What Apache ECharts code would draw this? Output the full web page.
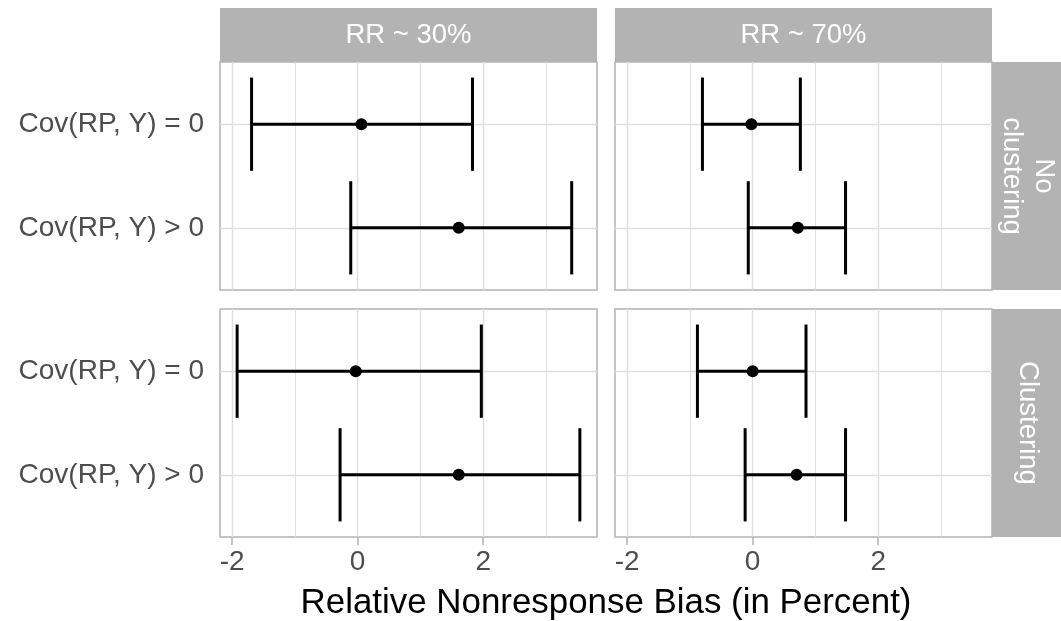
<!DOCTYPE html>
<html>
<head>
<meta charset="utf-8">
<script src="https://cdn.jsdelivr.net/npm/echarts@6/dist/echarts.min.js"></script>
<style>
  html, body { margin: 0; padding: 0; background: #fff; }
  #main { width: 1061px; height: 621px; }
</style>
</head>
<body>
<div id="main"></div>
<script>
var categories = ["Cov(RP, Y) = 0", "Cov(RP, Y) > 0"];
var rrLabels = ["RR ~ 30%", "RR ~ 70%"];
var clusterLabels = ["No\nclustering", "Clustering"];
var xTicks = [-2, 0, 2];
var xMinorTicks = [-1, 1, 3];

// No clustering, RR ~ 30%
var lowerNc30 = [-1.69, -0.11];
var estNc30 = [0.06, 1.61];
var upperNc30 = [1.83, 3.41];
// No clustering, RR ~ 70%
var lowerNc70 = [-0.80, -0.07];
var estNc70 = [-0.02, 0.72];
var upperNc70 = [0.76, 1.48];
// Clustering, RR ~ 30%
var lowerCl30 = [-1.92, -0.28];
var estCl30 = [-0.03, 1.61];
var upperCl30 = [1.97, 3.54];
// Clustering, RR ~ 70%
var lowerCl70 = [-0.88, -0.12];
var estCl70 = [0.00, 0.70];
var upperCl70 = [0.85, 1.48];

var FONT = "Liberation Sans";
var chartDom = document.getElementById("main");
var myChart = echarts.init(chartDom);

var panels = [
  { lower: lowerNc30, est: estNc30, upper: upperNc30, left: 220, top: 62, row: 0, col: 0 },
  { lower: lowerNc70, est: estNc70, upper: upperNc70, left: 615, top: 62, row: 0, col: 1 },
  { lower: lowerCl30, est: estCl30, upper: upperCl30, left: 220, top: 309, row: 1, col: 0 },
  { lower: lowerCl70, est: estCl70, upper: upperCl70, left: 615, top: 309, row: 1, col: 1 }
];
var panelW = 377, panelH = 228;

function renderBar(params, api) {
  var y = api.value(0);
  var lo = api.coord([api.value(1), y]);
  var hi = api.coord([api.value(3), y]);
  var mid = api.coord([api.value(2), y]);
  var capTop = api.coord([api.value(1), y - 0.45])[1];
  var capBot = api.coord([api.value(1), y + 0.45])[1];
  var st = { stroke: "#000", lineWidth: 3 };
  return {
    type: "group",
    children: [
      { type: "line", shape: { x1: lo[0], y1: lo[1], x2: hi[0], y2: hi[1] }, style: st },
      { type: "line", shape: { x1: lo[0], y1: capTop, x2: lo[0], y2: capBot }, style: st },
      { type: "line", shape: { x1: hi[0], y1: capTop, x2: hi[0], y2: capBot }, style: st },
      { type: "circle", shape: { cx: mid[0], cy: mid[1], r: 6 }, style: { fill: "#000" } }
    ]
  };
}

var grids = [], xAxes = [], yAxes = [], series = [], graphics = [];

panels.forEach(function (p, i) {
  var showX = p.row === 1;
  var showY = p.col === 0;
  grids.push({
    left: p.left, top: p.top, width: panelW, height: panelH,
    show: true, borderColor: "#B3B3B3", borderWidth: 1.5, backgroundColor: "#fff"
  });
  xAxes.push({
    type: "value", gridIndex: i, min: -2.193, max: 3.813,
    axisLine: { show: false },
    splitLine: { show: false },
    axisTick: { show: showX, customValues: xTicks, length: 8, lineStyle: { color: "#B3B3B3", width: 1.5 } },
    axisLabel: { show: showX, customValues: xTicks, fontSize: 28, fontFamily: FONT, color: "#4D4D4D", margin: 11 }
  });
  yAxes.push({
    type: "value", gridIndex: i, min: 0.4, max: 2.6, inverse: true,
    axisLine: { show: false },
    splitLine: { show: false },
    axisTick: { show: showY, customValues: [1, 2], length: 8, lineStyle: { color: "#B3B3B3", width: 1.5 } },
    axisLabel: {
      show: showY, customValues: [1, 2], fontSize: 28, fontFamily: FONT, color: "#4D4D4D", margin: 16,
      formatter: function (v) { return categories[Math.round(v) - 1]; }
    }
  });

  // panel grid lines (major and minor)
  var gridLines = [];
  xTicks.forEach(function (v) { gridLines.push({ xAxis: v, lineStyle: { width: 1.4 } }); });
  xMinorTicks.forEach(function (v) { gridLines.push({ xAxis: v, lineStyle: { width: 0.9 } }); });
  [1, 2].forEach(function (v) { gridLines.push({ yAxis: v, lineStyle: { width: 1.4 } }); });
  series.push({
    type: "line", xAxisIndex: i, yAxisIndex: i, data: [], z: 1, silent: true,
    markLine: {
      silent: true, symbol: "none", animation: false,
      label: { show: false },
      lineStyle: { color: "#DEDEDE", type: "solid" },
      data: gridLines
    }
  });

  var items = categories.map(function (c, k) {
    return [k + 1, p.lower[k], p.est[k], p.upper[k]];
  });
  series.push({
    type: "custom", xAxisIndex: i, yAxisIndex: i, z: 5,
    renderItem: renderBar,
    encode: { x: [1, 2, 3], y: 0 },
    data: items
  });
});

// column strips
rrLabels.forEach(function (t, c) {
  var left = c === 0 ? 220 : 615;
  graphics.push({ type: "rect", left: left, top: 8, shape: { width: panelW, height: 54 }, style: { fill: "#B3B3B3" } });
  graphics.push({
    type: "text", x: left + panelW / 2, y: 35,
    style: { text: t, fill: "#fff", font: "27.5px " + FONT, textAlign: "center", textVerticalAlign: "middle" }
  });
});
// row strips
clusterLabels.forEach(function (t, r) {
  var top = r === 0 ? 62 : 309;
  graphics.push({ type: "rect", left: 992, top: top, shape: { width: 70, height: panelH }, style: { fill: "#B3B3B3" } });
  graphics.push({
    type: "text", x: 1028, y: top + panelH / 2, rotation: -Math.PI / 2,
    style: { text: t, fill: "#fff", font: "27.5px " + FONT, lineHeight: 32, textAlign: "center", textVerticalAlign: "middle" }
  });
});
// x-axis title
graphics.push({
  type: "text", x: 606, y: 603,
  style: { text: "Relative Nonresponse Bias (in Percent)", fill: "#000", font: "34.9px " + FONT, textAlign: "center", textVerticalAlign: "middle" }
});

var option = {
  animation: false,
  grid: grids,
  xAxis: xAxes,
  yAxis: yAxes,
  series: series,
  graphic: graphics
};

myChart.setOption(option);
window.addEventListener("resize", myChart.resize);
</script>
</body>
</html>
